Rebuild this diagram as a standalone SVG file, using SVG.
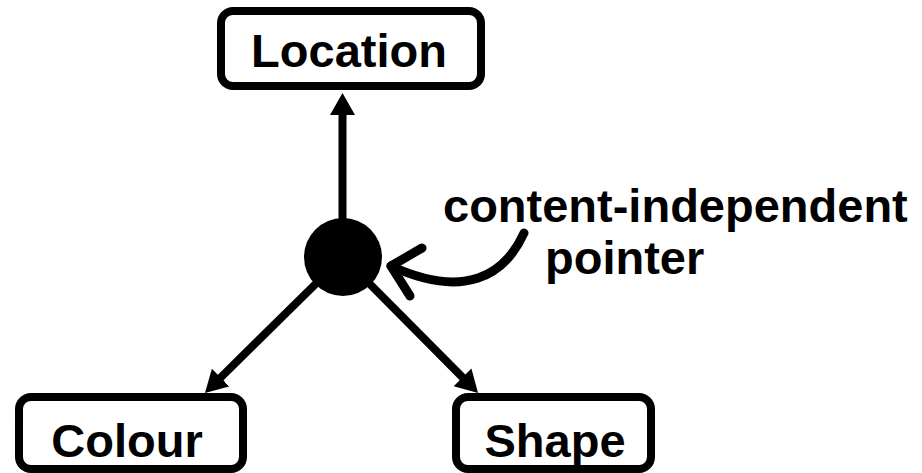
<svg xmlns="http://www.w3.org/2000/svg" width="922" height="473" viewBox="0 0 922 473">
  <style>
    .box { fill: #ffffff; stroke: #000000; stroke-width: 8; }
    .label { font-family: "Liberation Sans", Arial, sans-serif; font-weight: bold; font-size: 47px; fill: #000000; }
    .edge { stroke: #000000; stroke-width: 8; fill: none; }
    .curve { stroke: #000000; stroke-width: 9; fill: none; stroke-linecap: round; stroke-linejoin: round; }
  </style>
  <defs>
    <marker id="arrow" markerUnits="userSpaceOnUse" viewBox="0 -13 23 26" markerWidth="23" markerHeight="26" refX="12" refY="0" orient="auto">
      <path d="M0,-12.5 L22,0 L0,12.5 Z" fill="#000000"/>
    </marker>
  </defs>
  <g id="connectors">
    <line class="edge" x1="342.5" y1="257" x2="342.5" y2="103" marker-end="url(#arrow)"/>
    <line class="edge" x1="343" y1="257" x2="212.1" y2="386" marker-end="url(#arrow)"/>
    <line class="edge" x1="343" y1="257" x2="471" y2="385.9" marker-end="url(#arrow)"/>
    <path class="curve" d="M524,233 C505,275 465,300 391,266"/>
    <path class="curve" d="M422,248 L391,266 L410,296"/>
  </g>
  <g id="pointer-node">
    <circle cx="343" cy="257" r="39" fill="#000000"/>
  </g>
  <g id="location">
    <rect class="box" x="221" y="11" width="260" height="75" rx="12" ry="12"/>
    <text class="label" x="349" y="67" text-anchor="middle">Location</text>
  </g>
  <g id="colour">
    <rect class="box" x="19" y="397" width="224" height="72" rx="12" ry="12"/>
    <text class="label" x="127" y="457" text-anchor="middle">Colour</text>
  </g>
  <g id="shape">
    <rect class="box" x="456" y="397" width="195" height="72" rx="12" ry="12"/>
    <text class="label" x="555" y="457" text-anchor="middle">Shape</text>
  </g>
  <g id="pointer-label">
    <text class="label" x="443" y="222">content-independent</text>
    <text class="label" x="545" y="274">pointer</text>
  </g>
</svg>
